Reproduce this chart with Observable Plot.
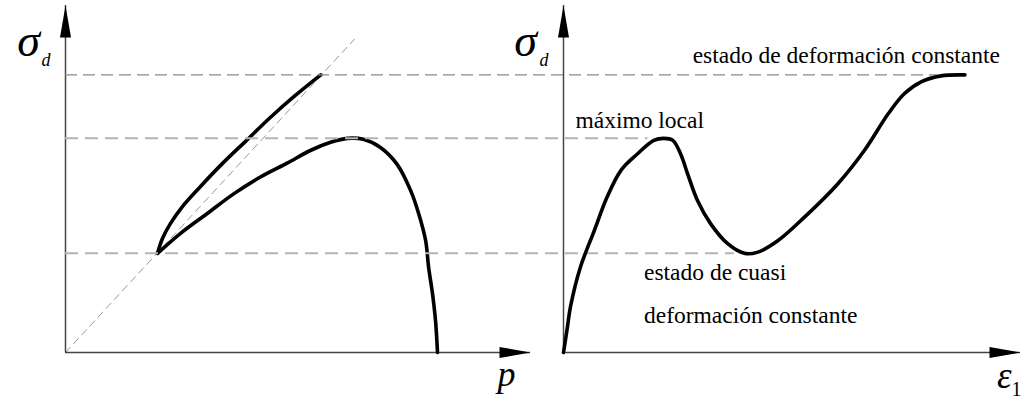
<!DOCTYPE html>
<html>
<head>
<meta charset="utf-8">
<script src="https://cdn.jsdelivr.net/npm/d3@7"></script>
<script src="https://cdn.jsdelivr.net/npm/@observablehq/plot@0.6"></script>
<style>
  html, body { margin: 0; padding: 0; background: #fff; }
  #fig { position: relative; width: 1021px; height: 400px; }
  #fig svg { position: absolute; left: 0; top: 0; }
</style>
</head>
<body>
<div id="fig"></div>
<script>
// ---- Left panel: stress paths in the p – σd plane ----
// loading branch (rises above the straight line through the origin)
const upperP = [0.93, 0.98, 1.06, 1.18, 1.36, 1.59, 1.83, 2.07, 2.32, 2.58];
const upperS = [1.00, 1.15, 1.30, 1.47, 1.67, 1.91, 2.14, 2.37, 2.59, 2.80];
// branch that peaks and collapses back to σd = 0
const lowerP = [0.93, 1.16, 1.43, 1.70, 1.97, 2.24, 2.48, 2.68, 2.85, 3.01, 3.18, 3.35, 3.49, 3.57, 3.64, 3.67, 3.71, 3.74, 3.76];
const lowerS = [1.00, 1.20, 1.40, 1.60, 1.77, 1.91, 2.04, 2.12, 2.16, 2.15, 2.07, 1.90, 1.63, 1.40, 1.13, 0.86, 0.59, 0.32, 0.00];
// straight reference line through the origin
const diagP = [0, 2.92];
const diagS = [0, 3.16];

// ---- Right panel: σd against axial strain ε1 ----
const eps = [0, 0.04, 0.07, 0.17, 0.31, 0.44, 0.58, 0.74, 0.91, 1.01, 1.10, 1.18, 1.25, 1.35, 1.48, 1.65, 1.82, 1.95, 2.16, 2.42, 2.76, 3.03, 3.27, 3.43, 3.60, 3.80, 4.04];
const sig = [0, 0.26, 0.46, 0.86, 1.23, 1.57, 1.84, 2.00, 2.14, 2.16, 2.14, 2.00, 1.80, 1.53, 1.30, 1.10, 1.00, 1.01, 1.13, 1.36, 1.70, 2.04, 2.41, 2.61, 2.73, 2.79, 2.80];

// horizontal reference levels: constant deformation, local maximum, quasi-constant deformation
const levelSigma = [2.80, 2.16, 1.00];
const levelEndEps = [3.77, 0.85, 1.72];

// annotations of the right panel
const noteText = ["estado de deformación constante", "máximo local", "estado de cuasi", "deformación constante"];
const noteEps = [1.30, 0.12, 0.81, 0.81];
const noteSig = [2.925, 2.26, 0.73, 0.30];

// ---- layout ----
const W = 1021, H = 400;
const yDomain = [0, 3.5];
const leftDomain = [0, 4.7];
const rightDomain = [0, 4.6];
const leftM = {marginLeft: 65, marginRight: 491, marginTop: 5, marginBottom: 48};
const rightM = {marginLeft: 563, marginRight: 1, marginTop: 5, marginBottom: 48};

const xl = Plot.scale({x: {domain: leftDomain, range: [leftM.marginLeft, W - leftM.marginRight]}});
const xr = Plot.scale({x: {domain: rightDomain, range: [rightM.marginLeft, W - rightM.marginRight]}});
// levels start on the left panel's σd axis; express that in ε1 units
const levelStart = xr.invert(xl.apply(0));

const serif = "'Liberation Serif', 'Times New Roman', serif";
const pairs = (a, b) => a.map((v, i) => ({x: v, y: b[i]}));

// filled arrowheads, tip at the anchor point
const arrowUp = {draw(c) { c.moveTo(0, 0); c.lineTo(5.5, 32); c.lineTo(-5.5, 32); c.closePath(); }};
const arrowRight = {draw(c) { c.moveTo(0, 0); c.lineTo(-31, -5.5); c.lineTo(-31, 5.5); c.closePath(); }};

function axes(xMax, yMax) {
  return [
    Plot.ruleY([0], {x1: 0, x2: xMax, stroke: "#444", strokeWidth: 1.5}),
    Plot.ruleX([0], {y1: 0, y2: yMax, stroke: "#444", strokeWidth: 1.5}),
    Plot.dot([{x: 0, y: yMax}], {x: "x", y: "y", symbol: arrowUp, fill: "#000", stroke: "none"}),
    Plot.dot([{x: xMax, y: 0}], {x: "x", y: "y", symbol: arrowRight, fill: "#000", stroke: "none"})
  ];
}

// σ with subscript d, placed to the left of the vertical axis
function sigmaLabel(shift) {
  return [
    Plot.text(["σ"], {text: d => d, frameAnchor: "top-left", textAnchor: "middle", lineAnchor: "bottom",
      dx: -37 + shift, dy: 50, fontSize: 46, fontStyle: "italic", fontFamily: serif, fill: "#000"}),
    Plot.text(["d"], {text: d => d, frameAnchor: "top-left", textAnchor: "start", lineAnchor: "bottom",
      dx: -24, dy: 60, fontSize: 18, fontStyle: "italic", fontFamily: serif, fill: "#000"})
  ];
}

const common = {
  width: W, height: H,
  y: {domain: yDomain, axis: null},
  style: {background: "transparent", overflow: "visible", fontFamily: serif}
};

const left = Plot.plot({
  ...common, ...leftM,
  x: {domain: leftDomain, axis: null},
  marks: [
    Plot.line(pairs(diagP, diagS), {x: "x", y: "y", stroke: "#999", strokeWidth: 1, strokeDasharray: "7,5"}),
    ...axes(leftDomain[1], yDomain[1]),
    Plot.line(pairs(upperP, upperS), {x: "x", y: "y", curve: "catmull-rom", stroke: "#000", strokeWidth: 3.6}),
    Plot.line(pairs(lowerP, lowerS), {x: "x", y: "y", curve: "catmull-rom", stroke: "#000", strokeWidth: 3.6}),
    ...sigmaLabel(0),
    Plot.text(["p"], {text: d => d, frameAnchor: "bottom-right", textAnchor: "middle", lineAnchor: "bottom",
      dx: -24, dy: 33, fontSize: 36, fontStyle: "italic", fontFamily: serif, fill: "#000"})
  ]
});

const levels = levelSigma.map((s, i) => ({s, end: levelEndEps[i]}));
const notes = noteText.map((t, i) => ({t, x: noteEps[i], y: noteSig[i]}));

const right = Plot.plot({
  ...common, ...rightM,
  x: {domain: rightDomain, axis: null},
  marks: [
    Plot.ruleY(levels.slice(0, 1), {y: "s", x1: levelStart, x2: "end", stroke: "#8a8a8a", strokeWidth: 1.2, strokeDasharray: "12,6"}),
    Plot.ruleY(levels.slice(1), {y: "s", x1: levelStart, x2: "end", stroke: "#b4b4b4", strokeWidth: 2, strokeDasharray: "13,7"}),
    ...axes(rightDomain[1], yDomain[1]),
    Plot.line(pairs(eps, sig), {x: "x", y: "y", curve: "catmull-rom", stroke: "#000", strokeWidth: 3.6}),
    Plot.text(notes, {x: "x", y: "y", text: "t", textAnchor: "start", lineAnchor: "bottom",
      fontSize: 23.5, fontFamily: serif, fill: "#000"}),
    ...sigmaLabel(-1),
    Plot.text(["ε"], {text: d => d, frameAnchor: "bottom-right", textAnchor: "end", lineAnchor: "bottom",
      dx: -9, dy: 35, fontSize: 37, fontStyle: "italic", fontFamily: serif, fill: "#000"}),
    Plot.text(["1"], {text: d => d, frameAnchor: "bottom-right", textAnchor: "start", lineAnchor: "bottom",
      dx: -9, dy: 43, fontSize: 20, fontFamily: serif, fill: "#000"})
  ]
});

const fig = document.getElementById("fig");
fig.append(left, right);
</script>
</body>
</html>
